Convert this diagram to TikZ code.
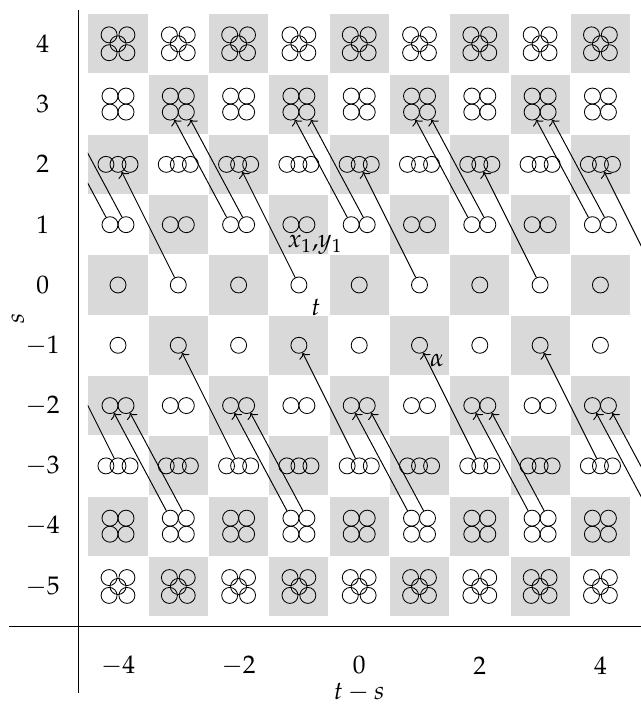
\documentclass[tikz,border=0pt]{standalone}
\usepackage{mathpazo}
\usetikzlibrary{arrows.meta}
\newcommand\mkcircles[3]{%
 \pgfmathtruncatemacro\nn{abs(#2+0.5)+0.5}%
 \ifcase\nn\or
  \node[#3] (c#1s#2k1) at (#1,#2) {};%
 \or
  \node[#3] (c#1s#2k1) at (#1-0.133,#2) {};%
  \node[#3] (c#1s#2k2) at (#1+0.133,#2) {};%
 \or
  \node[#3] (c#1s#2k1) at (#1-0.2,#2) {};%
  \node[#3] (c#1s#2k2) at (#1,#2) {};%
  \node[#3] (c#1s#2k3) at (#1+0.2,#2) {};%
 \or
  \node[#3] (c#1s#2k1) at (#1-0.133,#2+0.133) {};%
  \node[#3] (c#1s#2k2) at (#1+0.133,#2+0.133) {};%
  \node[#3] (c#1s#2k3) at (#1-0.133,#2-0.133) {};%
  \node[#3] (c#1s#2k4) at (#1+0.133,#2-0.133) {};%
 \or
  \node[#3] (c#1s#2k1) at (#1-0.148,#2+0.148) {};%
  \node[#3] (c#1s#2k2) at (#1+0.148,#2+0.148) {};%
  \node[#3] (c#1s#2k3) at (#1-0.148,#2-0.148) {};%
  \node[#3] (c#1s#2k4) at (#1+0.148,#2-0.148) {};%
  \node[#3] (c#1s#2k5) at (#1,#2) {};%
 \fi}
\begin{document}
\begin{tikzpicture}[x=1cm,y=1cm,
  ring/.style={circle,draw,inner sep=0pt,minimum size=0.265cm,line width=0.4pt},
  ghost/.style={circle,inner sep=0pt,minimum size=0.265cm},
  link/.style={-{To[length=2.4pt,width=5.6pt]},line width=0.45pt},
  lab/.style={font=\fontsize{12}{14.4}\selectfont,inner sep=0pt},
  axisline/.style={line width=0.5pt}]
\useasboundingbox (-5.957,-6.982) rectangle (4.673,4.726);
% checkerboard
\foreach \c in {-4,...,4}{
 \foreach \s in {-5,...,4}{
  \pgfmathtruncatemacro\tpar{mod(\c+\s+20,2)}
  \ifnum\tpar=0 \fill[black!15] (\c-0.49,\s-0.49) rectangle (\c+0.49,\s+0.49);\fi
 }}
% circles
\foreach \c in {-4,...,4}{\foreach \s in {-5,...,4}{\mkcircles{\c}{\s}{ring}}}
\foreach \c in {-5,5}{\foreach \s in {-5,...,4}{\mkcircles{\c}{\s}{ghost}}}
% connectors
\begin{scope}
\clip (-4.5,-6) rectangle (5,5);
\foreach \c in {-4,-2,...,4}{
  \pgfmathtruncatemacro\d{\c-1}
  \draw[link] (c\c s1k1) -- (c\d s3k3);
  \draw[link] (c\c s1k2) -- (c\d s3k4);
  \draw[link] (c\c s-3k2) -- (c\d s-1k1);
}
\foreach \c in {-3,-1,...,5}{
  \pgfmathtruncatemacro\d{\c-1}
  \draw[link] (c\c s0k1) -- (c\d s2k2);
  \draw[link] (c\c s-4k1) -- (c\d s-2k1);
  \draw[link] (c\c s-4k2) -- (c\d s-2k2);
}
\end{scope}
% axes
\coordinate (va) at (-4.65,4.56);
\coordinate (vb) at (-4.65,-6.77);
\draw[axisline] (va) -- (vb);
\coordinate (ha) at (-5.8,-5.67);
\coordinate (hb) at (4.673,-5.67);
\draw[axisline] (ha) -- (hb);
% labels
\foreach \s in {-5,...,4}{\node[lab] (sl\s) at (-5.25,\s) {$\s$};}
\foreach \c in {-4,-2,...,4}{\node[lab] (tl\c) at (\c,-6.31) {$\c$};}
\node[lab,rotate=90] (ylab) at (-5.66,-0.55) {$s$};
\node[lab] (xlab) at (0,-6.75) {$t-s$};
\node[lab] (lx) at (-0.733,0.663) {$x_1{,}y_1$};
\node[lab] (lt) at (-0.72,-0.38) {$t$};
\node[lab] (la) at (1.29,-1.25) {$\alpha$};
\end{tikzpicture}
\end{document}
